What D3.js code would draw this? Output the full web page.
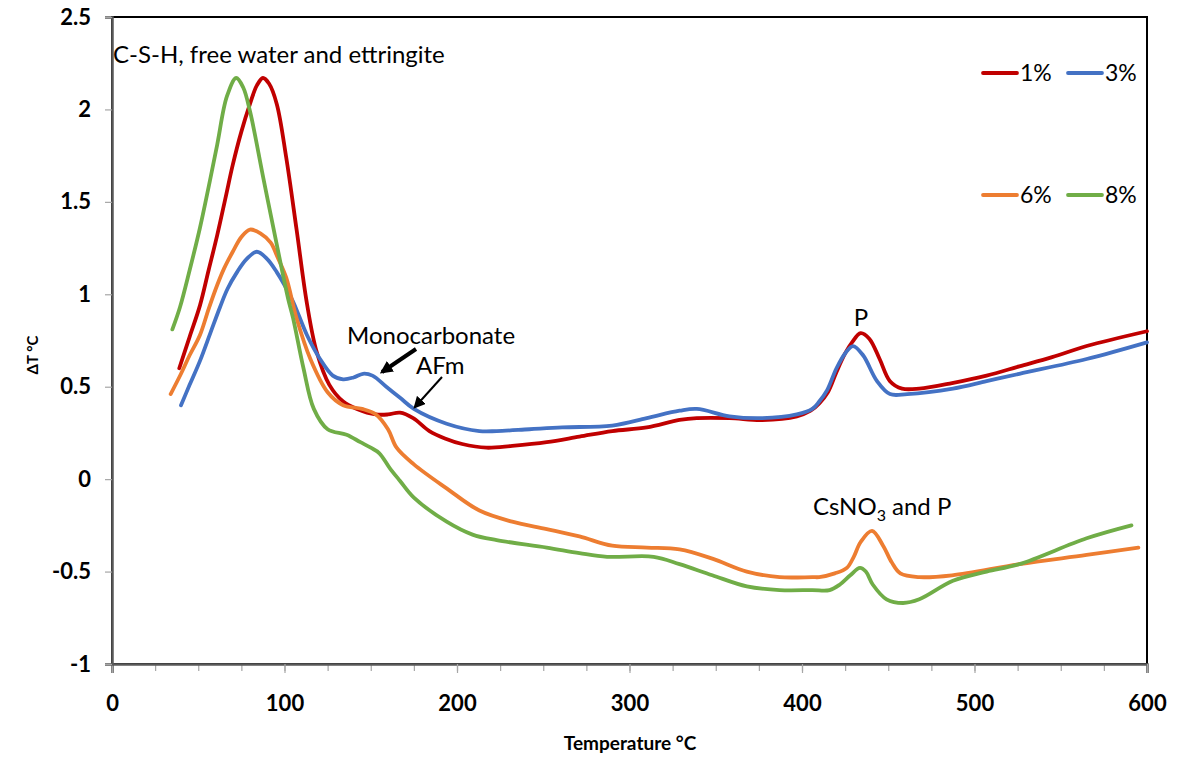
<!DOCTYPE html>
<html>
<head>
<meta charset="utf-8">
<script src="https://cdn.jsdelivr.net/npm/d3@7/dist/d3.min.js"></script>
<style>
  html, body { margin: 0; padding: 0; background: #fff; }
  svg { display: block; font-family: Lato, "Open Sans", sans-serif; }
</style>
</head>
<body>
<svg id="chart" width="1180" height="758"></svg>
<script>
// DTA curves, ΔT (°C) against temperature (°C)
const temp1 = [39, 45, 51, 56, 61, 66, 70, 75, 80, 84, 87.5, 91, 95.5, 101, 107, 113, 118.6, 126, 134, 142, 153, 160, 167, 174.6, 184, 193, 203, 217, 232, 252, 271, 290, 310, 329, 339, 358, 377, 397, 405, 410, 415, 420, 425, 429, 434, 439, 445, 451, 458, 468, 487, 507, 526, 545, 565, 600];
const dT1   = [0.60, 0.77, 0.94, 1.13, 1.32, 1.53, 1.70, 1.88, 2.03, 2.13, 2.17, 2.14, 2.03, 1.74, 1.35, 0.95, 0.69, 0.51, 0.42, 0.38, 0.35, 0.35, 0.36, 0.33, 0.26, 0.22, 0.19, 0.17, 0.18, 0.20, 0.23, 0.26, 0.28, 0.32, 0.33, 0.33, 0.32, 0.34, 0.37, 0.41, 0.47, 0.58, 0.68, 0.74, 0.79, 0.76, 0.65, 0.53, 0.49, 0.49, 0.52, 0.56, 0.61, 0.66, 0.72, 0.80];

const temp3 = [40, 45, 51, 57, 62.6, 67, 72.5, 78, 84, 90, 95.5, 100, 105, 113, 120.6, 128, 134, 140, 145.5, 151, 159, 167, 175, 194, 213, 223, 242, 261, 290, 310, 329, 339, 358, 377, 397, 406, 410, 414.5, 420, 425, 429.6, 435.4, 443.5, 451, 461, 487.5, 507, 526, 565, 600];
const dT3   = [0.40, 0.51, 0.64, 0.79, 0.93, 1.03, 1.12, 1.19, 1.23, 1.19, 1.12, 1.05, 0.96, 0.78, 0.65, 0.56, 0.54, 0.55, 0.57, 0.56, 0.50, 0.44, 0.38, 0.30, 0.26, 0.26, 0.27, 0.28, 0.29, 0.33, 0.37, 0.38, 0.34, 0.33, 0.35, 0.38, 0.42, 0.48, 0.60, 0.68, 0.72, 0.67, 0.53, 0.46, 0.46, 0.49, 0.53, 0.57, 0.65, 0.74];

const temp6 = [34, 40, 45, 51, 56, 61, 65, 70, 75, 80, 86, 92, 96, 101, 107, 115, 125, 134, 145, 153, 160, 165, 175, 194, 213, 232, 252, 271, 290, 310, 329, 348, 368, 387, 406, 410, 419, 426, 430, 434, 440.6, 447, 452, 457, 468, 487, 526, 565, 595];
const dT6   = [0.46, 0.57, 0.67, 0.78, 0.92, 1.05, 1.14, 1.23, 1.31, 1.35, 1.33, 1.28, 1.20, 1.09, 0.87, 0.65, 0.47, 0.40, 0.38, 0.35, 0.27, 0.17, 0.08, -0.05, -0.17, -0.23, -0.27, -0.31, -0.36, -0.37, -0.38, -0.43, -0.50, -0.53, -0.53, -0.53, -0.51, -0.48, -0.42, -0.34, -0.28, -0.36, -0.45, -0.51, -0.53, -0.52, -0.46, -0.41, -0.37];

const temp8 = [35, 39.4, 45, 51, 56, 61, 66.6, 72, 76, 80, 87.7, 95.5, 102, 105, 111, 117, 125, 136, 144, 150, 155, 161, 167, 175, 194, 209, 223, 252, 271, 287, 314, 329, 348, 368, 387, 406, 416, 422, 428, 433.6, 437, 441, 449, 458.6, 468, 487.5, 507, 526, 565, 591];
const dT8   = [0.81, 0.93, 1.13, 1.36, 1.58, 1.81, 2.07, 2.17, 2.12, 1.99, 1.63, 1.27, 0.98, 0.87, 0.60, 0.38, 0.27, 0.24, 0.20, 0.17, 0.14, 0.06, -0.01, -0.10, -0.23, -0.30, -0.33, -0.37, -0.40, -0.42, -0.42, -0.46, -0.52, -0.58, -0.60, -0.60, -0.60, -0.57, -0.52, -0.48, -0.50, -0.57, -0.65, -0.67, -0.65, -0.55, -0.50, -0.46, -0.32, -0.25];

const seriesNames  = ["1%", "3%", "6%", "8%"];
const seriesColors = ["#c00000", "#4472c4", "#ed7d31", "#70ad47"];
const xTickValues  = [0, 100, 200, 300, 400, 500, 600];
const yTickValues  = [-1, -0.5, 0, 0.5, 1, 1.5, 2, 2.5];

const series = [
  { name: seriesNames[0], color: seriesColors[0], t: temp1, v: dT1 },
  { name: seriesNames[1], color: seriesColors[1], t: temp3, v: dT3 },
  { name: seriesNames[2], color: seriesColors[2], t: temp6, v: dT6 },
  { name: seriesNames[3], color: seriesColors[3], t: temp8, v: dT8 }
];

const svg = d3.select("#chart");
const plot = { left: 112, right: 1147, top: 17, bottom: 664 };

const x = d3.scaleLinear().domain([0, 600]).range([plot.left, plot.right]);
const y = d3.scaleLinear().domain([-1, 2.5]).range([plot.bottom, plot.top]);

// plot frame
svg.append("rect")
  .attr("x", plot.left).attr("y", plot.top)
  .attr("width", plot.right - plot.left).attr("height", plot.bottom - plot.top)
  .attr("fill", "none").attr("stroke", "#000").attr("stroke-width", 2);

// minor x ticks
const xMinor = d3.axisBottom(x).tickValues(d3.range(0, 601, 25)).tickSize(7).tickFormat("");
svg.append("g").attr("transform", `translate(0,${plot.bottom})`).call(xMinor)
  .call(g => g.select(".domain").remove())
  .call(g => g.selectAll("line").attr("stroke", "#a6a6a6").attr("stroke-width", 1.2));

// major x axis
const xAxis = d3.axisBottom(x).tickValues(xTickValues).tickSize(9).tickPadding(22);
svg.append("g").attr("transform", `translate(0,${plot.bottom})`).call(xAxis)
  .call(g => g.select(".domain").attr("stroke", "#595959").attr("stroke-width", 2.5))
  .call(g => g.selectAll("line").attr("stroke", "#a6a6a6").attr("stroke-width", 1.2))
  .call(g => g.selectAll("text").attr("fill", "#000").attr("font-size", 22)
    .attr("font-weight", "bold").attr("font-family", "Lato, sans-serif"));

// y axis
const yAxis = d3.axisLeft(y).tickValues(yTickValues).tickSize(7).tickPadding(14)
  .tickFormat(d => String(d));
svg.append("g").attr("transform", `translate(${plot.left},0)`).call(yAxis)
  .call(g => g.select(".domain").attr("stroke", "#595959").attr("stroke-width", 2.5))
  .call(g => g.selectAll("line").attr("stroke", "#a6a6a6").attr("stroke-width", 1.2))
  .call(g => g.selectAll("text").attr("fill", "#000").attr("font-size", 22)
    .attr("font-weight", "bold").attr("font-family", "Lato, sans-serif"));

// axis titles
svg.append("text")
  .attr("x", 630).attr("y", 750).attr("text-anchor", "middle")
  .attr("font-size", 19).attr("font-weight", "bold").text("Temperature °C");
svg.append("text")
  .attr("transform", "translate(38,355) rotate(-90)").attr("text-anchor", "middle")
  .attr("font-size", 15).attr("font-weight", "bold").text("ΔT °C");

// curves
const line = d3.line()
  .x(d => x(d[0])).y(d => y(d[1]))
  .curve(d3.curveCatmullRom.alpha(0.5));

svg.append("g").selectAll("path")
  .data(series)
  .join("path")
  .attr("d", s => line(s.t.map((t, i) => [t, s.v[i]])))
  .attr("fill", "none")
  .attr("stroke", s => s.color)
  .attr("stroke-width", 3.8)
  .attr("stroke-linecap", "round")
  .attr("stroke-linejoin", "round");

// legend, two entries per row
const legend = svg.append("g");
const legendPos = [[983, 73], [1068, 73], [983, 195], [1068, 195]];
series.forEach((s, i) => {
  const [lx, ly] = legendPos[i];
  legend.append("line")
    .attr("x1", lx).attr("x2", lx + 34).attr("y1", ly).attr("y2", ly)
    .attr("stroke", s.color).attr("stroke-width", 3.8).attr("stroke-linecap", "round");
  legend.append("text")
    .attr("x", lx + 37).attr("y", ly + 8).attr("font-size", 23).text(s.name);
});

// annotations
const ann = svg.append("g").attr("font-size", 24).attr("fill", "#000");
ann.append("text").attr("x", 113).attr("y", 63).text("C-S-H, free water and ettringite");
ann.append("text").attr("x", 347).attr("y", 344).text("Monocarbonate");
ann.append("text").attr("x", 416).attr("y", 374).text("AFm");
ann.append("text").attr("x", 861).attr("y", 326).attr("text-anchor", "middle").text("P");
const cs = ann.append("text").attr("x", 813).attr("y", 515);
cs.append("tspan").text("CsNO");
cs.append("tspan").attr("font-size", 16).attr("dy", 6).text("3");
cs.append("tspan").attr("dy", -6).text(" and P");

// arrow heads
const defs = svg.append("defs");
defs.append("marker").attr("id", "headBold")
  .attr("viewBox", "0 0 10 10").attr("refX", 8).attr("refY", 5)
  .attr("markerWidth", 3.2).attr("markerHeight", 3.2).attr("orient", "auto")
  .attr("markerUnits", "strokeWidth")
  .append("path").attr("d", "M0,0 L10,5 L0,10 z").attr("fill", "#000");
defs.append("marker").attr("id", "headThin")
  .attr("viewBox", "0 0 10 10").attr("refX", 8).attr("refY", 5)
  .attr("markerWidth", 6).attr("markerHeight", 6).attr("orient", "auto")
  .attr("markerUnits", "strokeWidth")
  .append("path").attr("d", "M0,0 L10,5 L0,10 z").attr("fill", "#000");

svg.append("line").attr("x1", 416).attr("y1", 349).attr("x2", 382).attr("y2", 372)
  .attr("stroke", "#000").attr("stroke-width", 4).attr("marker-end", "url(#headBold)");
svg.append("line").attr("x1", 442).attr("y1", 377).attr("x2", 415).attr("y2", 407)
  .attr("stroke", "#000").attr("stroke-width", 2).attr("marker-end", "url(#headThin)");
</script>
</body>
</html>
